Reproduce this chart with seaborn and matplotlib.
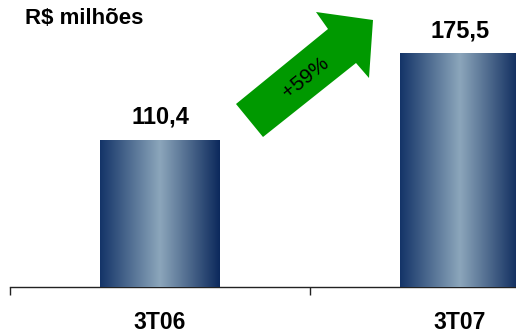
import numpy as np
import pandas as pd
import matplotlib
matplotlib.use("Agg")
import matplotlib.pyplot as plt
import seaborn as sns
from matplotlib.colors import LinearSegmentedColormap
from matplotlib.patches import Polygon

categories = ["3T06", "3T07"]
values = [110.4, 175.5]
growth_label = "+59%"
unit_label = "R$ milhões"

sns.set_theme(style="white")
plt.rcParams['font.family'] = ['Liberation Sans', 'DejaVu Sans']

W, H = 516, 336
fig = plt.figure(figsize=(W / 100, H / 100), dpi=100)
ax = fig.add_axes([10 / W, (H - 287) / H, (W - 10) / W, 287 / H])

df = pd.DataFrame({"cat": categories, "val": values})
sns.barplot(data=df, x="cat", y="val", ax=ax, width=0.4, color="#1b3a6b",
            edgecolor="none", saturation=1)

cmap = LinearSegmentedColormap.from_list(
    "bar", [(0, "#143468"), (0.5, "#8ca6bb"), (1, "#0c295c")])
grad = np.linspace(0, 1, 256).reshape(1, -1)
for p in list(ax.patches):
    x0, y0 = p.get_x(), p.get_y()
    w, h = p.get_width(), p.get_height()
    im = ax.imshow(grad, cmap=cmap, aspect="auto",
                   extent=[x0, x0 + w, y0, y0 + h], zorder=3,
                   interpolation="bicubic")
    im.set_clip_path(p)

for i, v in enumerate(values):
    ax.annotate(f"{v:.1f}".replace(".", ","), (i, v), xytext=(0, 8),
                textcoords="offset points", ha="center", va="bottom",
                fontsize=17, fontweight="bold", color="black", zorder=5)

for s in ["top", "right", "left"]:
    ax.spines[s].set_visible(False)
ax.spines["bottom"].set_color("#222222")
ax.spines["bottom"].set_linewidth(1.0)
ax.set_yticks([])
ax.set_xticks([0, 1])
ax.set_xticklabels(categories, fontsize=16.5, fontweight="bold", color="black")
ax.set_xticks([-0.5, 0.5, 1.5], minor=True)
ax.tick_params(axis="x", which="major", length=0, pad=17)
ax.tick_params(axis="x", which="minor", length=6, width=1.0,
               color="#222222", direction="out", bottom=True)
ax.set_xlabel("")
ax.set_ylabel("")

ax.set_xlim(-0.5, -0.5 + (W - 10) / 300)
ax.set_ylim(0, 287 / 1.3315)

# growth arrow (figure pixel coordinates, y from top)
pts = [(236, 104), (328, 29), (316, 12), (373, 20), (369, 78), (356, 63), (263, 137)]
poly = Polygon([(x / W, 1 - y / H) for x, y in pts], closed=True,
               transform=fig.transFigure, facecolor="#009900", edgecolor="none",
               zorder=10)
fig.patches.append(poly)
fig.text(306 / W, 1 - 78 / H, growth_label, rotation=39, ha="center",
         va="center", fontsize=15, color="black", zorder=11,
         rotation_mode="anchor")

fig.text(25 / W, 1 - 18 / H, unit_label, ha="left", va="center",
         fontsize=16, fontweight="bold", color="black")

fig.savefig("out.png", dpi=100)
